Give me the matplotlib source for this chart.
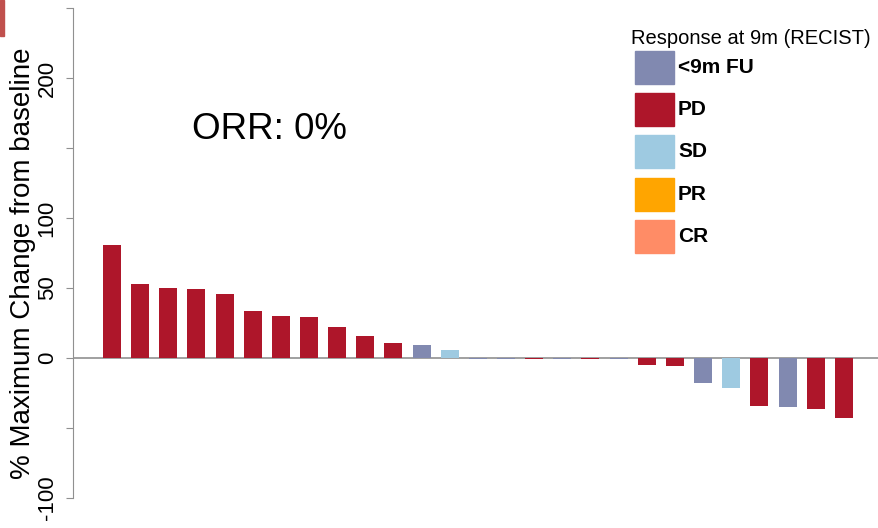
#!/usr/bin/env python3
# -*- coding: utf-8 -*-
"""Waterfall plot of best percentage change from baseline per patient."""
import matplotlib
matplotlib.use("Agg")
import matplotlib.pyplot as plt
from matplotlib.patches import Rectangle

# best % change from baseline, one value per patient (sorted)
change_pct = [81, 53, 50, 49, 45.5, 33.5, 30, 29, 22.5, 15.5, 11, 9.5, 5.5,
              -1, -1, -1, -1, -1, -1,
              -5, -5.5, -18, -21.5, -34.5, -35, -36.5, -43]
response = ["PD"] * 11 + ["FU", "SD",
            "FU", "FU", "PD", "FU", "PD", "FU",
            "PD", "PD", "FU", "SD", "PD", "FU", "PD", "PD"]

legend_keys = ["FU", "PD", "SD", "PR", "CR"]
legend_labels = ["<9m FU", "PD", "SD", "PR", "CR"]
colours = {"FU": "#8189b0", "PD": "#ae162a", "SD": "#9ecae1",
           "PR": "#ffa500", "CR": "#ff8c66"}

y_ticks = [-100, -50, 0, 50, 100, 150, 200, 250]
y_tick_labels = ["-100", "", "0", "50", "100", "", "200", ""]

W, H = 879, 528


def fx(px):
    return px / W


def fy(py):
    return 1 - py / H


plt.rcParams["font.family"] = ["Liberation Sans", "DejaVu Sans"]

fig = plt.figure(figsize=(W / 100, H / 100), dpi=100)
axe = fig.add_axes([fx(73), 0, fx(W - 73), 1])

xs = list(range(len(change_pct)))
axe.bar(xs, change_pct, width=0.64,
        color=[colours[r] for r in response], zorder=3)
axe.axhline(0, color="#a0a0a0", lw=1.4, zorder=2)

axe.set_xlim(-1.385, 27.25)
axe.set_ylim(-121.4, 255.7)
for side in ("top", "right", "bottom"):
    axe.spines[side].set_visible(False)
axe.spines["left"].set_bounds(-100, 250)
axe.spines["left"].set_color("#909090")
axe.set_xticks([])
axe.set_yticks(y_ticks)
axe.set_yticklabels(y_tick_labels, rotation=90, va="center", fontsize=16)
axe.tick_params(axis="y", length=5, color="#909090", pad=6)

fig.text(fx(23), fy(263), "% Maximum Change from baseline", rotation=90,
         ha="center", va="center", fontsize=20)
fig.text(fx(192), fy(139), "ORR: 0%", ha="left", va="baseline",
         fontsize=26.5)

# legend drawn by hand so rows line up with the boxes
fig.text(fx(631), fy(44), "Response at 9m (RECIST)", ha="left",
         va="baseline", fontsize=14.5)
for i, (key, label) in enumerate(zip(legend_keys, legend_labels)):
    top = 51 + i * 42.2
    fig.add_artist(Rectangle((fx(635), fy(top + 33)), fx(39), 33 / H,
                             transform=fig.transFigure,
                             color=colours[key]))
    fig.text(fx(678), fy(top + 16.5), label, ha="left", va="center",
             fontsize=15, fontweight="bold")

# slide accent in the corner
fig.add_artist(Rectangle((0, fy(36)), fx(4), 36 / H,
                         transform=fig.transFigure, color="#c0504d"))

fig.savefig("out.png", dpi=100)
